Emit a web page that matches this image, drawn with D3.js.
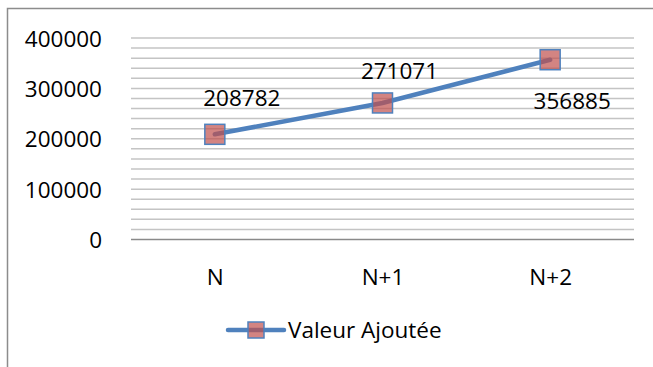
<!DOCTYPE html>
<html>
<head>
<meta charset="utf-8">
<script src="https://cdn.jsdelivr.net/npm/d3@7/dist/d3.min.js"></script>
<style>
  html, body { margin: 0; padding: 0; background: #fff; }
  svg { display: block; }
  text { font-family: "Open Sans", "Liberation Sans", sans-serif; fill: #000; }
</style>
</head>
<body>
<svg id="chart" width="653" height="367"></svg>
<script>
// Valeur ajoutée par exercice
const categories = ["N", "N+1", "N+2"];
const values = [208782, 271071, 356885];
const seriesName = "Valeur Ajoutée";
const yTicks = [0, 100000, 200000, 300000, 400000];
const yMinorStep = 20000;

const W = 653, H = 367;
const plot = { left: 131, right: 634, top: 38, bottom: 239.5 };
const fontSize = 22.5;
const lineColor = "#4f81bd";
const markerFill = "#c0504d";

// label offsets (dx, dy) from each point, in pixels
const labelOffsets = [[27, -36], [17, -32], [22, 41]];

const svg = d3.select("#chart");

// outer chart frame
svg.append("rect")
  .attr("x", 7.5).attr("y", 8.5)
  .attr("width", W + 10).attr("height", H + 10)
  .attr("fill", "none").attr("stroke", "#8c8c8c").attr("stroke-width", 1.5);

const x = d3.scalePoint().domain(categories)
  .range([plot.left, plot.right]).padding(0.5);
const y = d3.scaleLinear().domain([0, 400000])
  .range([plot.bottom, plot.top]);

// gridlines every 20000
const grid = d3.range(0, 400000 + 1, yMinorStep);
svg.append("g").selectAll("line").data(grid.filter(d => d > 0)).join("line")
  .attr("x1", plot.left).attr("x2", plot.right)
  .attr("y1", d => y(d)).attr("y2", d => y(d))
  .attr("stroke", "#c4c4c4").attr("stroke-width", 1.5);

// category axis line
svg.append("line")
  .attr("x1", plot.left).attr("x2", plot.right)
  .attr("y1", y(0)).attr("y2", y(0))
  .attr("stroke", "#8a8a8a").attr("stroke-width", 1.5);

// y axis labels
const yAxis = d3.axisLeft(y).tickValues(yTicks).tickFormat(d3.format("d"))
  .tickSize(0).tickPadding(0);
const gy = svg.append("g").attr("transform", `translate(102,0)`).call(yAxis);
gy.select(".domain").remove();
gy.selectAll("text")
  .style("font-family", '"Open Sans", sans-serif')
  .style("font-size", fontSize + "px").attr("fill", "#000")
  .attr("dy", "0.36em");

// x axis labels
const xAxis = d3.axisBottom(x).tickSize(0).tickPadding(0);
const gx = svg.append("g").attr("transform", `translate(0,277)`).call(xAxis);
gx.select(".domain").remove();
gx.selectAll("text")
  .style("font-family", '"Open Sans", sans-serif')
  .style("font-size", fontSize + "px").attr("fill", "#000")
  .attr("dy", "0.36em");

const pts = categories.map((c, i) => ({ c, v: values[i], i }));

// series line
svg.append("path").datum(pts)
  .attr("d", d3.line().x(d => x(d.c)).y(d => y(d.v)))
  .attr("fill", "none").attr("stroke", lineColor)
  .attr("stroke-width", 4.5).attr("stroke-linecap", "round");

// square markers
const ms = 20;
svg.append("g").selectAll("rect").data(pts).join("rect")
  .attr("x", d => x(d.c) - ms / 2).attr("y", d => y(d.v) - ms / 2)
  .attr("width", ms).attr("height", ms)
  .attr("fill", markerFill).attr("fill-opacity", 0.7)
  .attr("stroke", lineColor).attr("stroke-width", 1.5);

// data labels
svg.append("g").selectAll("text").data(pts).join("text")
  .attr("x", d => x(d.c) + labelOffsets[d.i][0])
  .attr("y", d => y(d.v) + labelOffsets[d.i][1])
  .attr("text-anchor", "middle").attr("dy", "0.36em")
  .style("font-size", fontSize + "px")
  .text(d => d.v);

// legend
const lg = svg.append("g").attr("transform", "translate(256,330)");
lg.append("line").attr("x1", -28).attr("x2", 28).attr("y1", 0).attr("y2", 0)
  .attr("stroke", lineColor).attr("stroke-width", 4.5).attr("stroke-linecap", "round");
lg.append("rect").attr("x", -8).attr("y", -8).attr("width", 16).attr("height", 16)
  .attr("fill", markerFill).attr("fill-opacity", 0.7)
  .attr("stroke", lineColor).attr("stroke-width", 1.5);
lg.append("text").attr("x", 32).attr("y", 0).attr("dy", "0.36em")
  .style("font-size", fontSize + "px").text(seriesName);
</script>
</body>
</html>
